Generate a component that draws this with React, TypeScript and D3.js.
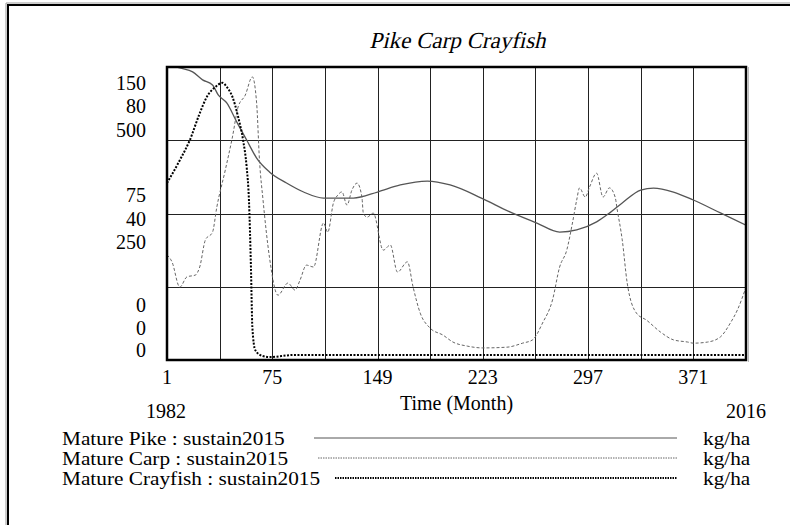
import React from "react";
import * as d3 from "d3";

const title = "Pike Carp Crayfish";
const xTickLabels = [1, 75, 149, 223, 297, 371];
const xStartYear = "1982";
const xEndYear = "2016";
const xAxisTitle = "Time (Month)";

const seriesNames = ["Mature Pike : sustain2015", "Mature Carp : sustain2015", "Mature Crayfish : sustain2015"];
const seriesUnits = ["kg/ha", "kg/ha", "kg/ha"];
const seriesMax = [150, 80, 500];

const pikeMonths = [1, 10, 19, 26, 33, 37, 43, 50, 57, 64, 73, 85, 97, 111, 132, 149, 165, 184, 200, 222, 242, 261, 277, 289, 303, 312, 321, 334, 343, 357, 371, 390, 408];
const pikeValues = [152, 149.5, 147.5, 143.4, 140.8, 135.7, 131.6, 121.9, 112.6, 103.4, 96.3, 90.6, 86, 82.9, 82.9, 86, 89.6, 91.6, 89.6, 82.9, 75.8, 70.1, 65.5, 66.6, 70.7, 75.2, 80.4, 87, 88, 86, 81.9, 75.3, 69];

const carpMonths = [1, 4.5, 10, 15, 21, 24, 28, 33, 36, 42, 47, 51, 56, 61, 64, 66, 68.5, 73, 79, 86, 91, 94.5, 99, 104, 111, 114, 118, 121, 124, 127.5, 131, 134.6, 138, 139, 141.6, 146, 153, 158, 163, 170, 174, 179, 186, 195, 202, 212, 223, 240, 251, 258, 265, 272, 277, 282, 286, 289, 291, 295, 298, 303, 307.5, 312, 316, 317.5, 321, 324.5, 331, 338, 348, 357, 367, 371, 381, 390, 397, 402, 408];
const carpValues = [28.7, 26.8, 19.9, 22.7, 23.2, 25.4, 32.8, 34.9, 41.7, 51.9, 60.9, 69.1, 72.3, 77.3, 70.2, 54.6, 43.7, 28.1, 17.7, 21, 19.1, 21.8, 25.9, 25.4, 37.4, 34.9, 42.9, 45, 45.9, 42.3, 46.4, 48.3, 44.5, 40.1, 39, 40.1, 30, 31.4, 24, 26.8, 19.9, 12.8, 8.7, 6.8, 4.9, 3.8, 3.3, 3.5, 4.6, 5.5, 10.1, 16.4, 25.4, 30, 37.4, 43.7, 47, 44.5, 47.2, 51, 44.5, 47, 44.5, 41, 32.8, 21, 12.8, 10.9, 7.6, 5.5, 4.9, 4.6, 4.9, 6.3, 10.1, 13.7, 19.9];

const crayMonths = [1, 10, 17, 24, 29, 35, 40, 43, 47, 51, 54.5, 57, 58.6, 60, 61, 63, 68, 73, 90, 150, 250, 350, 408];
const crayValues = [302, 341, 375, 421, 449, 466, 473, 466, 449, 415, 375, 329, 273, 159, 56, 17, 7, 5, 8.5, 8.5, 8.5, 8.5, 8.5];

const W = 790;
const H = 525;
const L = 167, R = 746, T = 67, B = 360;
const FONT = "'Liberation Serif', 'Times New Roman', serif";

export default function App() {
  const x = d3.scaleLinear().domain([1, 408]).range([L, R]);
  const yScales = seriesMax.map((m) => d3.scaleLinear().domain([0, m]).range([B, T]));
  const gridX = d3.range(1, 409, 37);
  const gridY = [0, 0.25, 0.5, 0.75, 1].map((f) => yScales[0](seriesMax[0] * f));

  const mk = (ms: number[], vs: number[], i: number) =>
    d3.line<number>().x((_, k) => x(ms[k])).y((_, k) => yScales[i](vs[k])).curve(d3.curveMonotoneX)(vs) || "";

  const pikePath = mk(pikeMonths, pikeValues, 0);
  const carpPath = mk(carpMonths, carpValues, 1);
  const crayPath = mk(crayMonths, crayValues, 2);

  const styles = [
    { stroke: "#555", width: 1.3, dash: "" },
    { stroke: "#666", width: 1, dash: "3 2" },
    { stroke: "#000", width: 2, dash: "2 1.5" },
  ];

  const stackOffsets = [
    [23, 46, 70],
    [-12, 12, 35],
    [-48, -25, -3],
  ];
  const fracs = [1, 0.5, 0];

  const legendY = [438, 458, 478];
  const legendLineStart = [314, 318, 335];

  return (
    <svg width={W} height={H} style={{ position: "absolute", left: 0, top: 0, background: "#fff" }} fontFamily={FONT}>
      <rect x={0} y={0} width={W} height={H} fill="#fff" />
      <path d={`M6,${H + 5} V3 H${W + 5}`} fill="none" stroke="#999" strokeWidth={1} />
      <path d={`M8,${H + 5} V5 H${W + 5}`} fill="none" stroke="#000" strokeWidth={2} />

      <text transform={`translate(${(L + R) / 2 + 1},48) skewX(-13)`} textAnchor="middle" fontSize={23} fill="#000">
        {title}
      </text>

      <defs>
        <clipPath id="plotclip">
          <rect x={L} y={T} width={R - L} height={B - T} />
        </clipPath>
      </defs>

      {gridX.map((g, i) => (
        <line key={"gx" + i} x1={Math.round(x(g)) + 0.5} x2={Math.round(x(g)) + 0.5} y1={T} y2={B} stroke="#222" strokeWidth={1} />
      ))}
      {gridY.map((g, i) => (
        <line key={"gy" + i} x1={L} x2={R} y1={Math.round(g) + 0.5} y2={Math.round(g) + 0.5} stroke="#222" strokeWidth={1} />
      ))}

      <g clipPath="url(#plotclip)">
        {[pikePath, carpPath, crayPath].map((p, i) => (
          <path key={"s" + i} d={p} fill="none" stroke={styles[i].stroke} strokeWidth={styles[i].width} strokeDasharray={styles[i].dash || undefined} />
        ))}
      </g>

      <line x1={R + 2.5} x2={R + 2.5} y1={T} y2={B + 2} stroke="#bbb" strokeWidth={1} />
      <rect x={L} y={T} width={R - L} height={B - T} fill="none" stroke="#000" strokeWidth={2.5} />

      {fracs.map((f, gi) =>
        yScales.map((ys, si) => (
          <text key={`yl${gi}-${si}`} x={146} y={ys(seriesMax[si] * f) + stackOffsets[gi][si]} textAnchor="end" fontSize={20} fill="#000">
            {d3.format("d")(seriesMax[si] * f)}
          </text>
        ))
      )}

      {xTickLabels.map((t) => (
        <text key={"xt" + t} x={x(t)} y={384} textAnchor="middle" fontSize={20} fill="#000">
          {t}
        </text>
      ))}
      <text x={(L + R) / 2} y={410} textAnchor="middle" fontSize={20} fill="#000">
        {xAxisTitle}
      </text>
      <text x={166} y={418} textAnchor="middle" fontSize={20} fill="#000">
        {xStartYear}
      </text>
      <text x={766} y={418} textAnchor="end" fontSize={20} fill="#000">
        {xEndYear}
      </text>

      {seriesNames.map((n, i) => (
        <g key={"lg" + i}>
          <text transform={`translate(62,${legendY[i] + 7}) scale(1.12,1)`} fontSize={19} fill="#000">
            {n}
          </text>
          <line x1={legendLineStart[i]} x2={677} y1={legendY[i]} y2={legendY[i]} stroke={styles[i].stroke} strokeWidth={i === 2 ? 2 : 1} strokeDasharray={i === 1 ? "1.5 1" : i === 2 ? "1.5 1" : undefined} />
          <text transform={`translate(703,${legendY[i] + 7}) scale(1.12,1)`} fontSize={19} fill="#000">
            {seriesUnits[i]}
          </text>
        </g>
      ))}
    </svg>
  );
}
